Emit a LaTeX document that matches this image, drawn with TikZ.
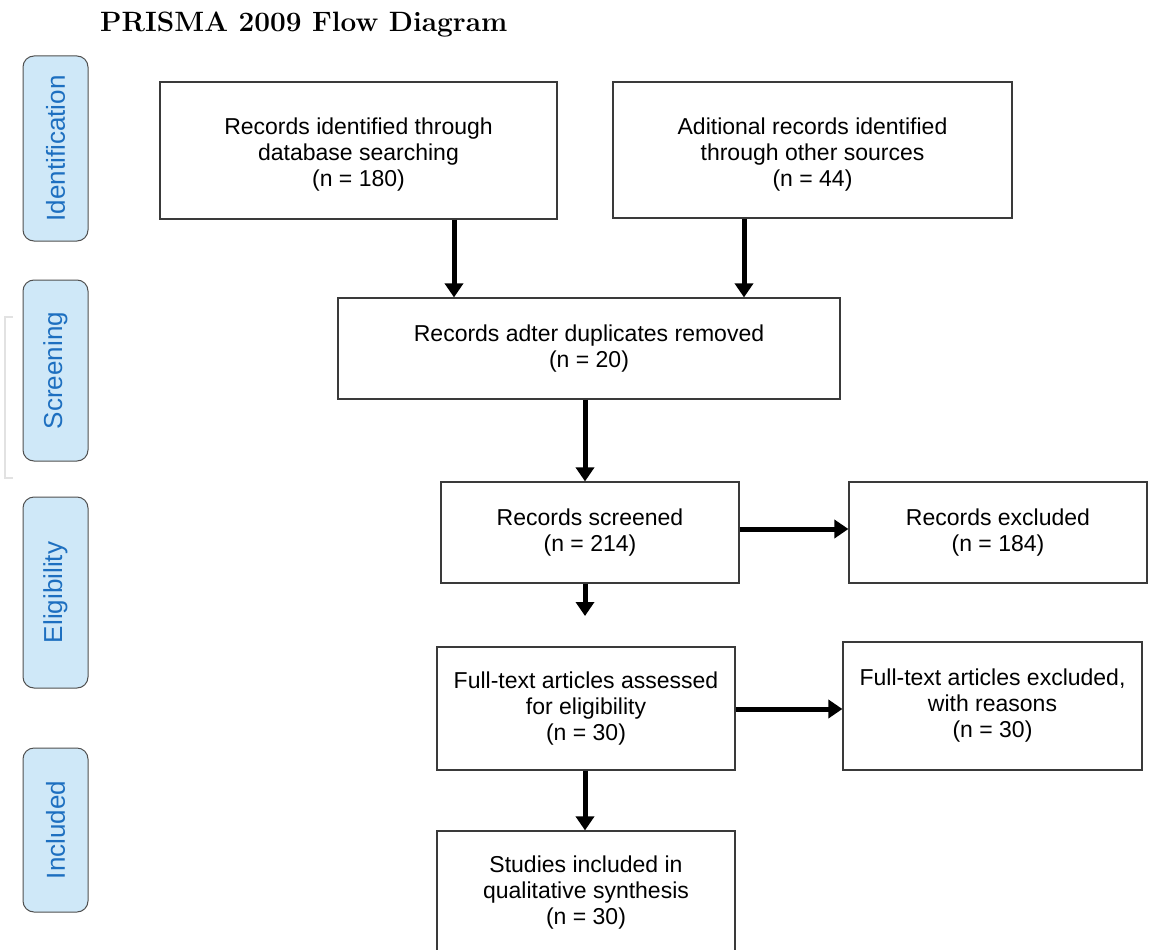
\documentclass[tikz,border=0pt]{standalone}
\usepackage{fontspec}
\newfontfamily\arialfont{Liberation Sans}
\usetikzlibrary{arrows.meta}
\definecolor{phasefill}{HTML}{CFE8F8}
\definecolor{phasetext}{HTML}{1D6FC0}
\definecolor{phaseline}{HTML}{505050}
\definecolor{boxline}{HTML}{3A3A3A}
\definecolor{faint}{HTML}{E2E2E2}
\newcommand{\lowertext}[1]{\raisebox{-5pt}[\height][\depth]{\begin{tabular}{@{}c@{}}#1\end{tabular}}}
\begin{document}
\begin{tikzpicture}[x=1pt,y=-1pt,
  box/.style={draw=boxline, line width=1.2pt, fill=white, rectangle, inner sep=0pt,
    align=center, font=\arialfont\fontsize{23}{26}\selectfont},
  phase/.style={draw=phaseline, line width=1pt, fill=phasefill, rounded corners=11pt,
    inner sep=0pt, text=phasetext, rotate=90, minimum height=65pt,
    font=\arialfont\fontsize{26}{30}\selectfont},
  arr/.style={line width=5pt, -{Triangle[length=14pt,width=18pt]}}]
\useasboundingbox (0,0) rectangle (1159,950);
\clip (0,0) rectangle (1159,950);

% title
\node[anchor=base west, inner sep=0pt, font=\fontsize{28}{30}\selectfont\bfseries] (title) at (100,32) {PRISMA 2009 Flow Diagram};

% faint bracket
\draw[faint, line width=1.2pt] (13,317) -- (5,317) -- (5,478) -- (13,478);

% phase labels
\node[phase, minimum width=185pt] (pid) at (55.5,148.5) {Identification};
\node[phase, minimum width=181pt] (psc) at (55.5,370.5) {Screening};
\node[phase, minimum width=191pt] (pel) at (55.5,592.5) {Eligibility};
\node[phase, minimum width=164pt] (pin) at (55.5,830) {Included};

% boxes
\node[box, minimum width=397pt, minimum height=137pt] (b1) at (358.5,150.5)
  {\lowertext{Records identified through\\database searching\\(n = 180)}};
\node[box, minimum width=399pt, minimum height=136pt] (b2) at (812.5,150)
  {\lowertext{Aditional records identified\\through other sources\\(n = 44)}};
\node[box, minimum width=502pt, minimum height=101pt] (b3) at (589,348.5)
  {Records adter duplicates removed\\(n = 20)};
\node[box, minimum width=298pt, minimum height=101pt] (b4) at (590,532.5)
  {Records screened\\(n = 214)};
\node[box, minimum width=298pt, minimum height=101pt] (b5) at (998,532.5)
  {Records excluded\\(n = 184)};
\node[box, minimum width=298pt, minimum height=123pt] (b6) at (586,708.5)
  {Full-text articles assessed\\for eligibility\\(n = 30)};
\node[box, minimum width=299pt, minimum height=128pt] (b7) at (992.5,706)
  {Full-text articles excluded,\\with reasons\\(n = 30)};
\node[box, minimum width=298pt, minimum height=124pt] (b8) at (586,893)
  {Studies included in\\qualitative synthesis\\(n = 30)};

% helper coordinates
\coordinate (x1) at (454,0);
\coordinate (x2) at (744,0);
\coordinate (xc) at (585,0);
\coordinate (y4) at (0,529);
\coordinate (y6) at (0,709);
\coordinate (e5) at (585,616);

% arrows
\draw[arr] (b1.south -| x1) -- (b3.north -| x1);
\draw[arr] (b2.south -| x2) -- (b3.north -| x2);
\draw[arr] (b3.south -| xc) -- (b4.north -| xc);
\draw[arr] (b4.east |- y4) -- (b5.west |- y4);
\draw[arr] (b4.south -| xc) -- (e5);
\draw[arr] (b6.east |- y6) -- (b7.west |- y6);
\draw[arr] (b6.south -| xc) -- (b8.north -| xc);
\end{tikzpicture}
\end{document}
